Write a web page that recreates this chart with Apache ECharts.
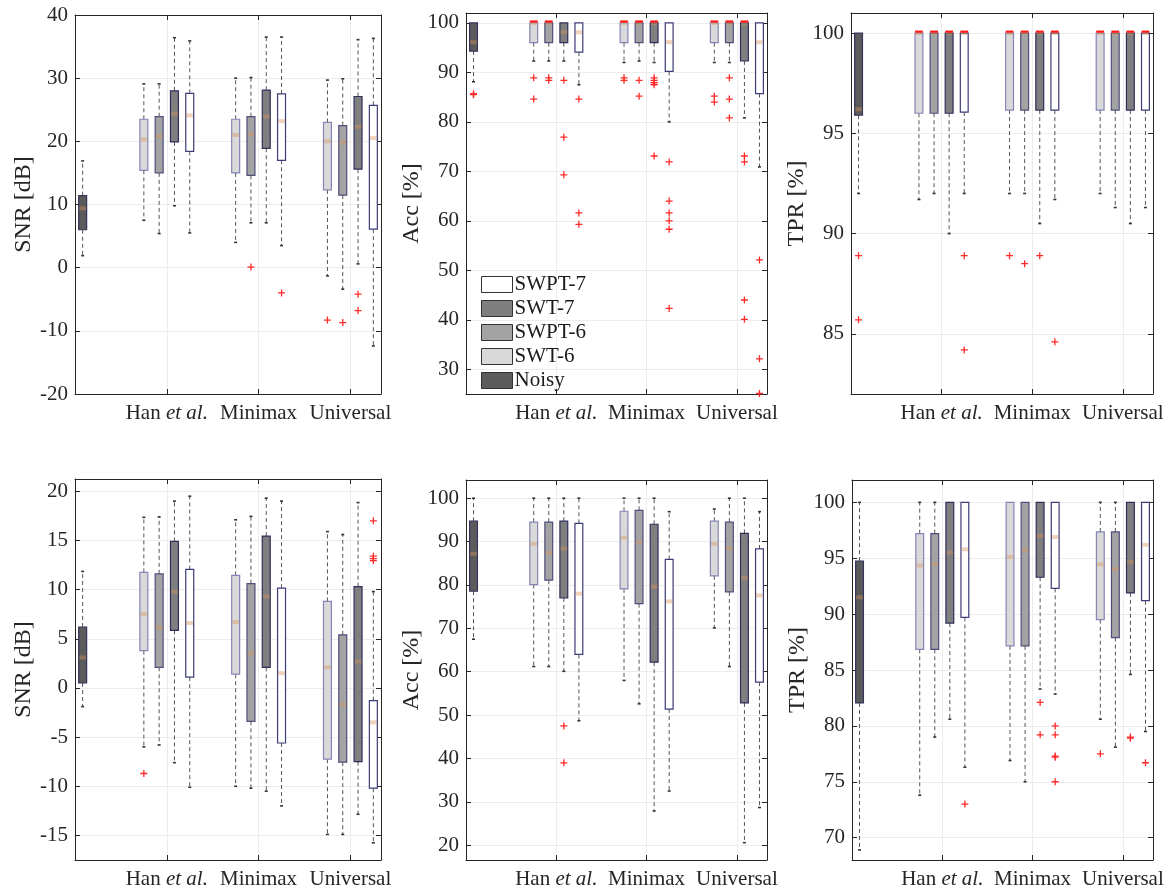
<!DOCTYPE html>
<html>
<head>
<meta charset="utf-8">
<title>boxplots</title>
<script src="https://cdn.jsdelivr.net/npm/echarts@6/dist/echarts.min.js"></script>
<style>
  html, body { margin: 0; padding: 0; background: #fff; }
  #main { width: 1172px; height: 893px; }
</style>
</head>
<body>
<div id="main"></div>
<script>
// box order: Noisy, then SWT-6, SWPT-6, SWT-7, SWPT-7 for each of Han et al., Minimax, Universal
var methods = ['Noisy', 'SWT-6', 'SWPT-6', 'SWT-7', 'SWPT-7'];
var groups = ['Han et al.', 'Minimax', 'Universal'];
var legendOrder = ['SWPT-7', 'SWT-7', 'SWPT-6', 'SWT-6', 'Noisy'];

// [lower whisker, q1, median, q3, upper whisker]
var snrTop = [
  [1.9, 6.0, 9.4, 11.4, 16.9],
  [7.5, 15.4, 20.3, 23.5, 29.1], [5.4, 15.0, 20.8, 23.9, 29.1], [9.8, 19.9, 24.4, 28.0, 36.4], [5.5, 18.4, 24.1, 27.6, 35.9],
  [4.0, 15.0, 21.0, 23.5, 30.0], [7.1, 14.6, 21.1, 23.9, 30.1], [7.1, 18.9, 23.9, 28.1, 36.5], [3.5, 17.0, 23.2, 27.5, 36.5],
  [-1.3, 12.3, 20.0, 23.0, 29.7], [-3.4, 11.5, 19.8, 22.5, 29.9], [0.6, 15.6, 22.3, 27.1, 36.1], [-12.4, 6.1, 20.5, 25.7, 36.3]
];
// [box index, value]
var snrTopOut = [[6, 0.1], [8, -4.0], [9, -8.3], [10, -8.7], [11, -4.2], [11, -6.8]];

var accTop = [
  [88.1, 94.3, 96.1, 100, 100],
  [92.3, 96.0, 100, 100, 100], [92.3, 96.0, 100, 100, 100], [92.3, 96.0, 98.1, 100, 100], [87.5, 94.1, 98.1, 100, 100],
  [92.0, 96.0, 100, 100, 100], [92.3, 96.0, 100, 100, 100], [92.0, 96.0, 100, 100, 100], [80.0, 90.2, 96.1, 100, 100],
  [92.0, 96.0, 100, 100, 100], [92.0, 96.0, 100, 100, 100], [80.8, 92.3, 100, 100, 100], [70.9, 85.7, 96.1, 100, 100]
];
var accTopOut = [
  [0, 85.7], [0, 85.5], [1, 88.9], [1, 84.6], [2, 88.9], [2, 88.4],
  [3, 88.4], [3, 76.9], [3, 69.3], [4, 84.6], [4, 61.6], [4, 59.3],
  [5, 88.9], [5, 88.4], [6, 88.4], [6, 85.2],
  [7, 88.9], [7, 88.4], [7, 87.9], [7, 87.5], [7, 73.1],
  [8, 71.9], [8, 64.0], [8, 61.6], [8, 60.0], [8, 58.3], [8, 42.3],
  [9, 85.2], [9, 84.0], [10, 88.9], [10, 84.6], [10, 80.8],
  [11, 73.1], [11, 71.9], [11, 44.0], [11, 40.1], [12, 52.1], [12, 32.1], [12, 25.1]
];

var tprTop = [
  [92.0, 95.9, 96.2, 100, 100],
  [91.7, 96.0, 100, 100, 100], [92.0, 96.0, 100, 100, 100], [90.0, 96.0, 100, 100, 100], [92.0, 96.06, 100, 100, 100],
  [92.0, 96.16, 100, 100, 100], [92.0, 96.16, 100, 100, 100], [90.5, 96.16, 100, 100, 100], [91.7, 96.16, 100, 100, 100],
  [92.0, 96.16, 100, 100, 100], [91.3, 96.16, 100, 100, 100], [90.5, 96.16, 100, 100, 100], [91.3, 96.16, 100, 100, 100]
];
var tprTopOut = [[0, 88.9], [0, 85.7], [4, 88.9], [4, 84.2], [5, 88.9], [6, 88.5], [7, 88.9], [8, 84.6]];

var snrBot = [
  [-1.9, 0.5, 3.1, 6.2, 11.85],
  [-6.0, 3.8, 7.5, 11.75, 17.35], [-5.8, 2.1, 6.15, 11.6, 17.4], [-7.6, 5.85, 9.8, 14.9, 19.0], [-10.1, 1.1, 6.6, 12.05, 19.5],
  [-10.0, 1.4, 6.7, 11.45, 17.1], [-10.2, -3.4, 3.5, 10.6, 17.45], [-10.5, 2.1, 9.3, 15.45, 19.3], [-12.0, -5.6, 1.5, 10.15, 19.0],
  [-14.9, -7.25, 2.1, 8.8, 15.9], [-14.9, -7.55, -1.7, 5.4, 15.6], [-12.85, -7.5, 2.7, 10.3, 18.85], [-15.75, -10.2, -3.5, -1.3, 9.8]
];
var snrBotOut = [[1, -8.7], [12, 17.0], [12, 13.4], [12, 13.15], [12, 12.95]];

var accBot = [
  [67.5, 78.55, 87.2, 94.7, 100],
  [61.2, 80.1, 89.5, 94.5, 100], [61.2, 81.1, 87.4, 94.5, 100], [60.1, 77.0, 88.4, 94.7, 100], [48.7, 64.0, 78.0, 94.2, 100],
  [58.0, 79.1, 90.9, 97.0, 100], [52.6, 75.7, 89.8, 97.2, 100], [27.9, 62.2, 79.6, 94.0, 100], [32.5, 51.4, 76.2, 85.9, 96.9],
  [70.1, 82.1, 89.5, 94.7, 97.5], [61.2, 78.4, 88.4, 94.5, 100], [20.6, 52.8, 81.7, 91.9, 100], [28.7, 57.6, 77.6, 88.3, 96.9]
];
var accBotOut = [[3, 47.5], [3, 39.0]];

var tprBot = [
  [68.9, 82.05, 91.5, 94.74, 100],
  [73.8, 86.85, 94.35, 97.2, 100], [79.0, 86.85, 94.5, 97.2, 100], [80.6, 89.2, 95.5, 100, 100], [76.3, 89.7, 95.8, 100, 100],
  [76.9, 87.15, 95.1, 100, 100], [75.0, 87.15, 95.7, 100, 100], [83.3, 93.3, 97.0, 100, 100], [82.85, 92.3, 96.9, 100, 100],
  [80.6, 89.5, 94.45, 97.35, 100], [78.1, 87.9, 94.0, 97.35, 100], [84.6, 91.9, 94.65, 100, 100], [79.5, 91.2, 96.2, 100, 100]
];
var tprBotOut = [[4, 73.0], [7, 82.1], [7, 79.2], [8, 80.0], [8, 79.2], [8, 77.3], [8, 77.2], [8, 75.0],
  [9, 77.5], [11, 79.0], [11, 78.9], [12, 76.7]];

var fills = { 'Noisy': '#5b5b5b', 'SWT-6': '#d9d9d9', 'SWPT-6': '#a3a3a3', 'SWT-7': '#7f7f7f', 'SWPT-7': '#ffffff' };
var edges = { 'Noisy': '#34345c', 'SWT-6': '#8585b8', 'SWPT-6': '#4e4e7c', 'SWT-7': '#2e2e5c', 'SWPT-7': '#3c3c78' };
var font = 'Liberation Serif';

var panels = [
  { stats: snrTop, out: snrTopOut, name: 'SNR [dB]', gap: 39, min: -20, max: 40, split: 6, step: 10, left: 75, top: 15, width: 306, height: 379 },
  { stats: accTop, out: accTopOut, name: 'Acc [%]', gap: 42, min: 25, max: 102, split: 7, step: 10, left: 466, top: 13, width: 301, height: 381 },
  { stats: tprTop, out: tprTopOut, name: 'TPR [%]', gap: 42, min: 82, max: 101, split: 4, step: 5, left: 851, top: 13, width: 302, height: 381 },
  { stats: snrBot, out: snrBotOut, name: 'SNR [dB]', gap: 39, min: -17.5, max: 21.25, split: 8, step: 5, left: 75, top: 479, width: 306, height: 381 },
  { stats: accBot, out: accBotOut, name: 'Acc [%]', gap: 42, min: 16.6, max: 104.2, split: 9, step: 10, left: 466, top: 480, width: 301, height: 380 },
  { stats: tprBot, out: tprBotOut, name: 'TPR [%]', gap: 42, min: 68, max: 102, split: 7, step: 5, left: 852, top: 480, width: 301, height: 380 }
];

// x position of box k: Noisy alone, then 4 boxes per group
function boxX(k) {
  if (k === 0) return 0.5;
  var g = Math.floor((k - 1) / 4), m = (k - 1) % 4;
  return 4.5 + 6 * g + m;
}
function methodOf(k) {
  return k === 0 ? 'Noisy' : methods[1 + (k - 1) % 4];
}

function makeRender(fill, edge) {
  return function (params, api) {
    var x = api.value(0);
    var lo = api.coord([x, api.value(1)]);
    var q1 = api.coord([x, api.value(2)]);
    var md = api.coord([x, api.value(3)]);
    var q3 = api.coord([x, api.value(4)]);
    var hi = api.coord([x, api.value(5)]);
    var w = api.size([0.52, 0])[0];
    var cx = lo[0];
    var dash = { stroke: '#555', lineWidth: 1, lineDash: [4, 3] };
    var cap = { stroke: '#333', lineWidth: 1.6 };
    var ch = [];
    if (q1[1] - lo[1] < -0.5) {
      ch.push({ type: 'line', shape: { x1: cx, y1: q1[1], x2: cx, y2: lo[1] }, style: dash });
      ch.push({ type: 'line', shape: { x1: cx - 1.5, y1: lo[1], x2: cx + 1.5, y2: lo[1] }, style: cap });
    }
    if (q3[1] - hi[1] > 0.5) {
      ch.push({ type: 'line', shape: { x1: cx, y1: q3[1], x2: cx, y2: hi[1] }, style: dash });
      ch.push({ type: 'line', shape: { x1: cx - 1.5, y1: hi[1], x2: cx + 1.5, y2: hi[1] }, style: cap });
    }
    ch.push({ type: 'rect', shape: { x: cx - w / 2, y: q3[1], width: w, height: q1[1] - q3[1] },
      style: { fill: fill, stroke: edge, lineWidth: 1.2 } });
    ch.push({ type: 'rect', shape: { x: cx - w / 2 + 0.6, y: md[1] - 2, width: w - 1.2, height: 4 },
      style: { fill: 'rgba(215,150,90,0.42)' } });
    if (md[1] - q3[1] < 1) {
      ch.push({ type: 'rect', shape: { x: cx - w / 2, y: md[1] - 2.5, width: w, height: 2.2 },
        style: { fill: '#ff1a1a' } });
    }
    return { type: 'group', children: ch };
  };
}

function xLabel(v) {
  var i = [6, 12, 18].indexOf(v);
  if (i < 0) return '';
  var s = groups[i];
  if (s.indexOf('et al.') >= 0) return s.replace('et al.', '{i|et al.}');
  return s;
}

var grid = [], xAxis = [], yAxis = [], series = [];
var axisLine = { onZero: false, lineStyle: { color: '#262626', width: 1 } };
var tick = { inside: true, length: 5, lineStyle: { color: '#262626' } };
panels.forEach(function (p, pi) {
  grid.push({ left: p.left, top: p.top, width: p.width, height: p.height, show: false });
  xAxis.push({
    type: 'value', gridIndex: pi, min: 0, max: 20, interval: 6, position: 'bottom',
    axisLine: axisLine, axisTick: tick,
    splitLine: { show: true, lineStyle: { color: '#ececec', width: 1 } },
    axisLabel: { formatter: xLabel, margin: 9,
      color: '#262626', fontFamily: font, fontSize: 21,
      rich: { i: { fontStyle: 'italic', fontFamily: font, fontSize: 21, color: '#262626' } } }
  });
  xAxis.push({
    type: 'value', gridIndex: pi, min: 0, max: 20, interval: 6, position: 'top',
    axisLine: axisLine, axisTick: tick,
    splitLine: { show: false }, axisLabel: { show: false }
  });
  yAxis.push({
    type: 'value', gridIndex: pi, min: p.min, max: p.max, splitNumber: p.split, position: 'left',
    name: p.name, nameLocation: 'middle', nameGap: p.gap,
    nameTextStyle: { fontFamily: font, fontSize: 24, color: '#262626' },
    axisLine: axisLine, axisTick: tick,
    splitLine: { show: true, lineStyle: { color: '#ececec', width: 1 } },
    axisLabel: {
      margin: 7, color: '#262626', fontFamily: font, fontSize: 21,
      formatter: function (v) { return Math.abs(v % p.step) > 1e-6 ? '' : String(v); }
    }
  });
  yAxis.push({
    type: 'value', gridIndex: pi, min: p.min, max: p.max, splitNumber: p.split, position: 'right',
    axisLine: axisLine, axisTick: tick,
    splitLine: { show: false }, axisLabel: { show: false }
  });

  methods.forEach(function (m) {
    var data = [];
    p.stats.forEach(function (s, k) {
      if (methodOf(k) === m) data.push([boxX(k)].concat(s));
    });
    series.push({
      type: 'custom', name: m, xAxisIndex: 2 * pi, yAxisIndex: 2 * pi,
      itemStyle: { color: fills[m], borderColor: '#333' },
      renderItem: makeRender(fills[m], edges[m]),
      encode: { x: 0, y: [1, 2, 3, 4, 5] },
      data: data, silent: true
    });
  });
  series.push({
    type: 'scatter', name: 'outliers', xAxisIndex: 2 * pi, yAxisIndex: 2 * pi,
    symbol: 'path://M0,5L10,5M5,0L5,10', symbolSize: 7,
    itemStyle: { color: 'none', borderColor: '#ff2a2a', borderWidth: 1.3, opacity: 1 },
    data: p.out.map(function (o) { return [boxX(o[0]), o[1]]; }),
    silent: true, z: 5
  });
});

var chart = echarts.init(document.getElementById('main'));
chart.setOption({
  animation: false,
  backgroundColor: '#ffffff',
  textStyle: { fontFamily: font },
  grid: grid,
  xAxis: xAxis,
  yAxis: yAxis,
  legend: {
    data: legendOrder, orient: 'vertical', left: 476, top: 269,
    itemWidth: 31, itemHeight: 16, itemGap: 3, icon: 'rect',
    itemStyle: { borderColor: '#333', borderWidth: 1 },
    textStyle: { fontFamily: font, fontSize: 21, color: '#1a1a1a', padding: [0, 0, 0, -3] }
  },
  series: series
});
</script>
</body>
</html>
